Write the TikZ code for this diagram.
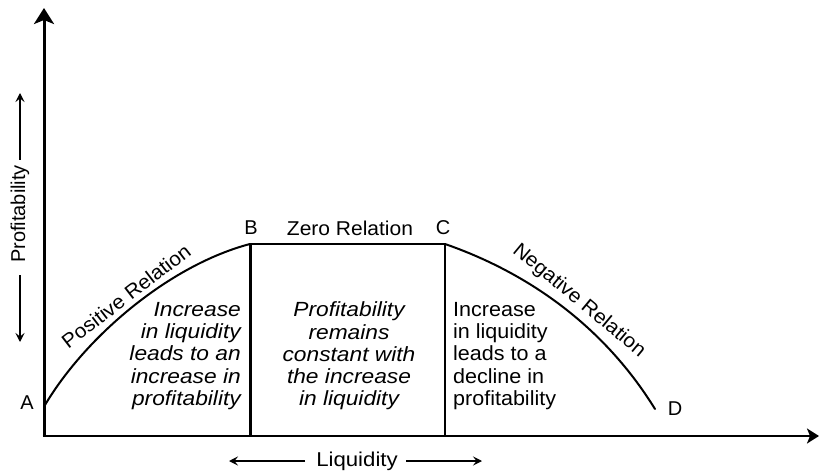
\documentclass[tikz,border=0pt]{standalone}
\usepackage{fontspec}
\setmainfont{Liberation Sans}
\newfontfamily\widefont[FakeStretch=1.11]{Liberation Sans}
\newfontfamily\halfwide[FakeStretch=1.05]{Liberation Sans}
\usetikzlibrary{arrows.meta}
\begin{document}
\begin{tikzpicture}[x=1pt,y=-1pt,
  lbl/.style={font=\fontsize{20}{22}\selectfont, inner sep=0pt},
  blurb/.style={inner sep=0pt, align=#1},
  italicblurb/.style={blurb=#1, font=\widefont\itshape\fontsize{20.5}{22.3}\selectfont},
  plainblurb/.style={blurb=#1, font=\halfwide\fontsize{20.5}{22.3}\selectfont},
  curve/.style={line width=2pt, line cap=round},
  divider/.style={line width=#1},
  hint/.style={line width=1.3pt, -{Stealth[length=9pt,width=9pt,inset=3.5pt]}}]
\useasboundingbox (0,0) rectangle (820,476);

% key points
\coordinate (O) at (44,436);
\coordinate (A) at (45,405);
\coordinate (B) at (250,244);
\coordinate (C) at (445,244);
\coordinate (D) at (655,409);
\coordinate (ytip) at (44,8);
\coordinate (xtip) at (819,436);

% axes
\draw[line width=3pt, -{Stealth[length=16pt,width=20pt,inset=4pt]}] ([yshift=1.5pt]O) -- (ytip);
\draw[line width=2pt, -{Stealth[length=12pt,width=15pt,inset=3pt]}] ([xshift=-1.5pt]O) -- (xtip);

% the profitability curve
\draw[curve] (A) .. controls (86,336) and (170,265) .. (B);
\draw[line width=2pt] (B) -- (C);
\draw[curve] (C) .. controls (520,270) and (600,320) .. (D);

% zone dividers
\draw[divider=3pt] (B) -- (B |- O);
\draw[divider=2pt] (C) -- (C |- O);

% point labels
\node[lbl] (lA) at (27,403) {A};
\node[lbl] (lB) at (251,228) {B};
\node[lbl] (lC) at (443,228) {C};
\node[lbl] (lD) at (675,409) {D};

% relation labels
\node[lbl] (zero) at (350,228) {\halfwide Zero Relation};
\node[lbl, rotate=37.6] (pos) at (126,296) {\halfwide Positive Relation};
\node[lbl, rotate=-39.7] (neg) at (579,301) {\halfwide Negative Relation};

% zone descriptions
\node[italicblurb=right, anchor=east] (z1) at (241,356)
  {Increase\\in liquidity\\leads to an\\increase in\\profitability};
\node[italicblurb=center] (z2) at (349,356)
  {Profitability\\remains\\constant with\\the increase\\in liquidity};
\node[plainblurb=left, anchor=west] (z3) at (453,356)
  {Increase\\in liquidity\\leads to a\\decline in\\profitability};

% axis titles
\node[lbl, rotate=90] (ptitle) at (20,214) {Profitability};
\coordinate (pUpFrom) at (20,160);
\coordinate (pUpTo) at (20,93);
\coordinate (pDnFrom) at (20,275);
\coordinate (pDnTo) at (20,342);
\draw[hint] (pUpFrom) -- (pUpTo);
\draw[hint] (pDnFrom) -- (pDnTo);

\node[lbl] (ltitle) at (357,461) {\widefont Liquidity};
\coordinate (lLfrom) at (305,461);
\coordinate (lLto) at (229,461);
\coordinate (lRfrom) at (406,461);
\coordinate (lRto) at (482,461);
\draw[hint] (lLfrom) -- (lLto);
\draw[hint] (lRfrom) -- (lRto);
\end{tikzpicture}
\end{document}
